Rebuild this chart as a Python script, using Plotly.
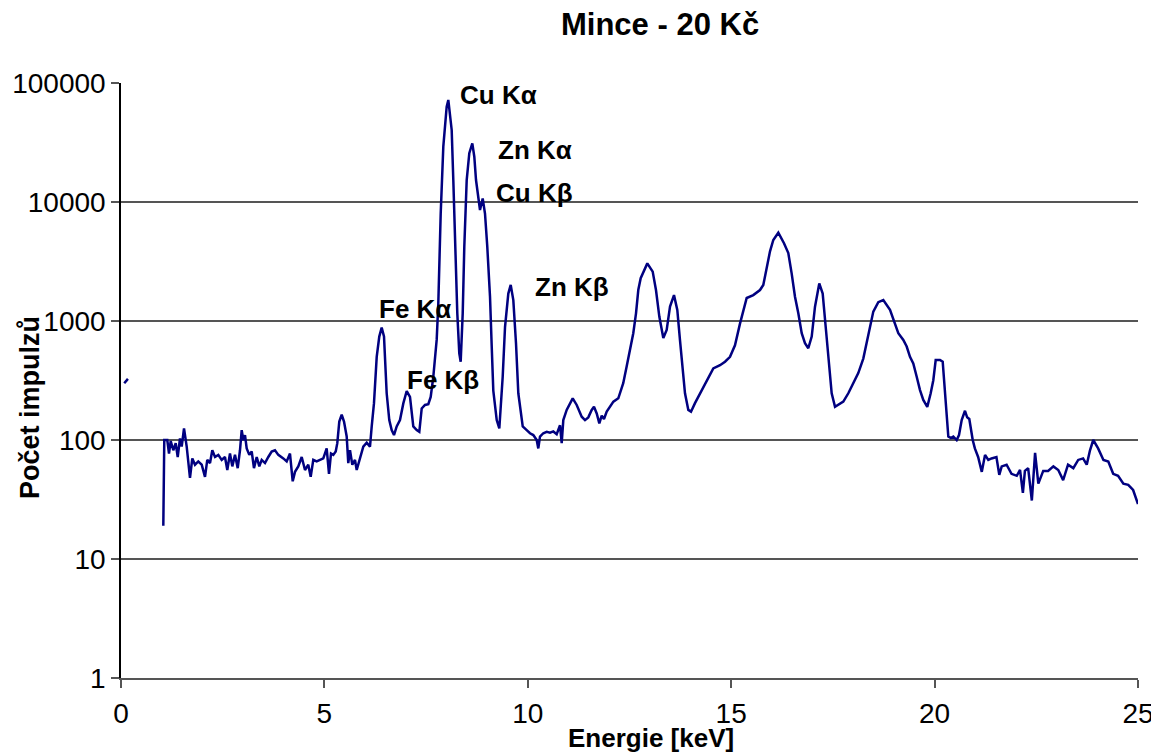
import math
import plotly.graph_objects as go

# Small isolated fragment near 0 keV
start_energy = [0.08, 0.17]
start_counts = [300, 326]

# Main spectrum (energy in keV, counts)
energy = [
    1.04, 1.064, 1.138, 1.18, 1.222, 1.286, 1.345, 1.394, 1.45, 1.492, 1.549, 1.615,
    1.696, 1.753, 1.819, 1.9, 1.984, 2.065, 2.121, 2.188, 2.244, 2.311, 2.392, 2.475,
    2.556, 2.613, 2.679, 2.736, 2.802, 2.869, 2.925, 2.967, 3.006, 3.048, 3.09, 3.154,
    3.213, 3.269, 3.336, 3.4, 3.459, 3.54, 3.621, 3.704, 3.785, 3.867, 3.99, 4.073,
    4.154, 4.221, 4.277, 4.358, 4.442, 4.523, 4.604, 4.663, 4.727, 4.81, 4.892, 4.973,
    5.056, 5.113, 5.162, 5.219, 5.278, 5.317, 5.366, 5.425, 5.482, 5.548, 5.587, 5.629,
    5.686, 5.752, 5.794, 5.875, 5.956, 6.04, 6.121, 6.163, 6.219, 6.286, 6.349, 6.408,
    6.465, 6.531, 6.595, 6.654, 6.711, 6.777, 6.858, 6.94, 7.023, 7.104, 7.185, 7.269,
    7.333, 7.392, 7.473, 7.554, 7.613, 7.677, 7.761, 7.8, 7.859, 7.923, 8.006, 8.046,
    8.129, 8.169, 8.21, 8.267, 8.316, 8.35, 8.4, 8.439, 8.498, 8.562, 8.636, 8.685,
    8.727, 8.783, 8.825, 8.891, 8.948, 9.004, 9.071, 9.113, 9.152, 9.236, 9.3, 9.383,
    9.44, 9.521, 9.58, 9.644, 9.71, 9.767, 9.826, 9.875, 9.973, 10.054, 10.135, 10.219,
    10.258, 10.3, 10.381, 10.465, 10.546, 10.627, 10.71, 10.792, 10.833, 10.873, 10.956,
    11.037, 11.104, 11.202, 11.325, 11.406, 11.487, 11.571, 11.627, 11.694, 11.758,
    11.817, 11.873, 11.94, 12.104, 12.225, 12.346, 12.43, 12.512, 12.593, 12.66, 12.716,
    12.775, 12.938, 13.07, 13.151, 13.233, 13.331, 13.414, 13.496, 13.594, 13.675,
    13.741, 13.808, 13.864, 13.946, 14.012, 14.11, 14.233, 14.356, 14.479, 14.56,
    14.725, 14.848, 14.971, 15.093, 15.216, 15.381, 15.543, 15.708, 15.789, 15.873,
    15.954, 16.035, 16.158, 16.298, 16.404, 16.487, 16.568, 16.65, 16.733, 16.814,
    16.895, 16.979, 17.06, 17.165, 17.249, 17.33, 17.411, 17.47, 17.552, 17.633,
    17.756, 17.879, 18.002, 18.124, 18.247, 18.331, 18.412, 18.493, 18.616, 18.739,
    18.904, 19.027, 19.108, 19.231, 19.314, 19.395, 19.476, 19.56, 19.641, 19.722,
    19.82, 19.904, 19.968, 20.027, 20.133, 20.199, 20.256, 20.297, 20.337, 20.4,
    20.46, 20.543, 20.6, 20.666, 20.747, 20.8, 20.853, 20.937, 20.99, 21.07, 21.16,
    21.24, 21.32, 21.4, 21.52, 21.59, 21.65, 21.77, 21.89, 22.02, 22.1, 22.17, 22.22,
    22.3, 22.39, 22.47, 22.55, 22.67, 22.79, 22.92, 23.04, 23.16, 23.28, 23.41, 23.53,
    23.65, 23.74, 23.82, 23.9, 24.02, 24.15, 24.27, 24.39, 24.51, 24.64, 24.76, 24.88,
    25.0,
]
counts = [
    19, 100, 100, 77, 98, 82, 94, 72, 103, 88, 125, 88,
    48, 70, 62, 66, 62, 49, 68, 64, 82, 72, 75, 68,
    72, 56, 77, 60, 75, 58, 82, 121, 100, 110, 85, 75,
    80, 58, 72, 60, 68, 64, 72, 80, 82, 75, 70, 66,
    77, 45, 54, 60, 72, 56, 62, 49, 68, 66, 68, 70,
    85, 52, 77, 75, 80, 94, 143, 163, 143, 107, 64, 82,
    62, 68, 56, 72, 88, 95, 88, 130, 204, 500, 740, 880,
    740, 247, 147, 121, 110, 130, 147, 203, 258, 230, 130, 121,
    117, 184, 197, 200, 230, 340, 700, 1400, 8000, 29200, 63300, 72000,
    40300, 15300, 4210, 1160, 535, 455, 1160, 4210, 15300, 25700, 31100, 24000,
    15300, 10400, 8570, 10700, 8000, 4210, 1600, 610, 260, 147, 125, 340,
    890, 1700, 2010, 1500, 650, 247, 167, 130, 121, 114, 110, 100,
    85, 107, 114, 117, 115, 118, 112, 133, 94, 147, 179,
    204, 224, 197, 157, 147, 155, 179, 190, 167, 138,
    160, 150, 173, 210, 224, 300, 415, 570, 790, 1160, 1820,
    2290, 3050, 2600, 1820, 1090, 720, 840, 1320, 1650, 1240,
    692, 387, 247, 179, 173, 204, 247, 300, 353, 400,
    425, 455, 500, 625, 950, 1560, 1650, 1820, 2010, 2860,
    3850, 4800, 5520, 4500, 3720, 2500, 1600, 1160, 790, 650,
    590, 740, 1320, 2070, 1700, 840, 387, 247, 190, 197,
    210, 247, 300, 365, 483, 650, 890, 1200, 1440, 1500,
    1240, 950, 790, 692, 610, 500, 440, 340, 263, 217,
    190, 247, 318, 470, 470, 455, 247, 147, 107, 104,
    107, 100, 110, 147, 176, 155, 150, 100, 85, 72, 54,
    75, 68, 70, 72, 51, 60, 62, 52, 50, 56, 36, 55,
    58, 31, 78, 43, 55, 55, 60, 56, 46, 62, 58, 68,
    70, 62, 82, 100, 85, 68, 66, 52, 50, 43, 42, 38,
    29,
]

# Peak labels
peak_labels = ["Cu Kα", "Zn Kα", "Cu Kβ", "Zn Kβ", "Fe Kα", "Fe Kβ"]
label_energy = [8.28, 9.22, 9.17, 10.12, 6.29, 6.98]
label_counts = [79000, 27400, 11900, 1930, 1260, 319]

y_tickvals = [1, 10, 100, 1000, 10000, 100000]
y_ticktext = ["1", "10", "100", "1000", "10000", "100000"]
x_tickvals = [0, 5, 10, 15, 20, 25]

line_color = "#000080"
font_family = "Liberation Sans, Arial, sans-serif"

# page offset of the figure (body margin) and plot area geometry in page pixels
OFF = 8
W, H = 1151, 746
L, R, T, B = 121 - OFF, 21, 83 - OFF, 76
PW, PH = W - L - R, H - T - B


def px_to_paper_x(px):
    return (px - OFF - L) / PW


def py_to_paper_y(py):
    return (H - B - (py - OFF)) / PH


fig = go.Figure()
fig.add_trace(go.Scatter(x=start_energy, y=start_counts, mode="lines",
                         line=dict(color=line_color, width=2.5), showlegend=False))
fig.add_trace(go.Scatter(x=energy, y=counts, mode="lines",
                         line=dict(color=line_color, width=2.5), showlegend=False))

annotations = []
for txt, ex, cy in zip(peak_labels, label_energy, label_counts):
    annotations.append(dict(x=ex, y=math.log10(cy), xref="x", yref="y", yanchor="middle",
                            text=f"<b>{txt}</b>", showarrow=False, xanchor="left",
                            font=dict(family=font_family, size=26, color="black")))

annotations.append(dict(text="<b>Mince - 20 Kč</b>", x=px_to_paper_x(660), y=py_to_paper_y(25),
                        xref="paper", yref="paper", xanchor="center", yanchor="middle",
                        showarrow=False, font=dict(family=font_family, size=31, color="black")))
annotations.append(dict(text="<b>Počet impulzů</b>", x=px_to_paper_x(30), y=py_to_paper_y(408),
                        xref="paper", yref="paper", xanchor="center", yanchor="middle",
                        textangle=-90, showarrow=False,
                        font=dict(family=font_family, size=27, color="black")))
annotations.append(dict(text="<b>Energie [keV]</b>", x=px_to_paper_x(651), y=py_to_paper_y(738),
                        xref="paper", yref="paper", xanchor="center", yanchor="middle",
                        showarrow=False, font=dict(family=font_family, size=26, color="black")))

fig.update_layout(
    width=W, height=H,
    margin=dict(l=L, r=R, t=T, b=B, autoexpand=False),
    paper_bgcolor="white", plot_bgcolor="white",
    font=dict(family=font_family, size=28, color="black"),
    annotations=annotations,
)

fig.update_xaxes(range=[0, 25], tickvals=x_tickvals, ticks="outside", ticklen=8,
                 tickwidth=1.5, tickcolor="#555555", showgrid=False, zeroline=False,
                 showline=True, linecolor="#555555", linewidth=2, automargin=False,
                 ticklabelstandoff=1, tickfont=dict(size=28))
fig.update_yaxes(type="log", range=[0, 5], tickvals=y_tickvals, ticktext=y_ticktext,
                 ticks="outside", ticklen=8, tickwidth=1.5, tickcolor="#555555",
                 showgrid=True, gridcolor="#555555", gridwidth=1.5, automargin=False,
                 showline=True, linecolor="black", linewidth=1.5, zeroline=False,
                 tickfont=dict(size=28))

fig.write_html("out.html")
